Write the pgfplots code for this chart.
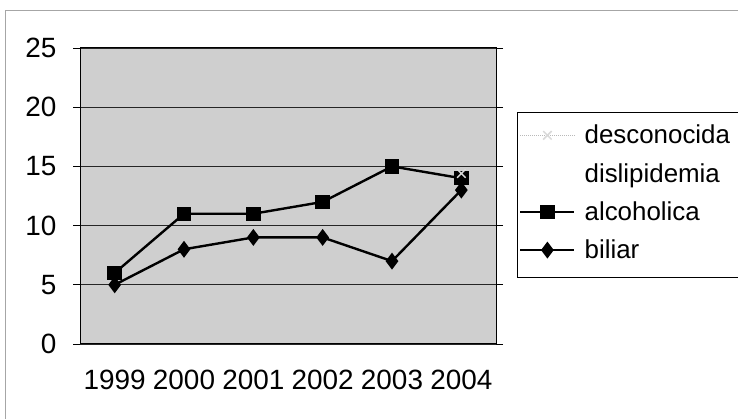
\documentclass[border=0pt]{standalone}
\usepackage{pgfplots}
\pgfplotsset{compat=1.18}
\usepackage{fontspec}
\setmainfont{Liberation Sans}
\newcommand{\chartfont}{\fontsize{28}{32}\selectfont}
\newcommand{\legfont}{\fontsize{26}{30}\selectfont}
\begin{document}
\begin{tikzpicture}
\useasboundingbox (0,0) rectangle (738bp,419bp);
\fill[white] (0,0) rectangle (738bp,419bp);
\draw[gray!70, line width=0.8bp] (5bp,0) -- (5bp,409bp) -- (738bp,409bp);
\begin{axis}[
  at={(80bp,75bp)}, anchor=south west,
  width=416bp, height=296bp, scale only axis,
  xmin=-0.5, xmax=5.5, ymin=0, ymax=25,
  xtick={0,1,2,3,4,5},
  xticklabels={1999,2000,2001,2002,2003,2004},
  extra x ticks={-0.5,0.5,1.5,2.5,3.5,4.5,5.5},
  extra x tick labels={},
  extra x tick style={major tick length=8bp, tick style={black, line width=0.8bp}},
  ytick={0,5,10,15,20,25},
  ymajorgrids, grid style={black!85, line width=0.8bp},
  tick align=outside,
  x tick style={draw=none},
  y tick style={black, line width=0.8bp},
  major tick length=7bp,
  axis line style={black, line width=1bp},
  axis background/.style={fill=black!19},
  /pgf/number format/assume math mode=true,
  ticklabel style={font=\chartfont},
  xticklabel style={yshift=-16bp},
  yticklabel style={xshift=-13bp},
  clip=false,
  reverse legend,
  legend style={at={(1.0505,0.777)}, anchor=north west, draw=none, fill=none,
    font=\legfont, row sep=14bp, inner xsep=2bp, inner ysep=9bp,
    /tikz/every even column/.append style={column sep=0bp},
    /tikz/every odd column/.append style={column sep=7bp}},
  legend cell align=left,
  legend image code/.code={\draw[mark repeat=2,mark phase=2,#1] plot coordinates {(0bp,0bp) (27bp,0bp) (54bp,0bp)};},
]
\addplot[black, line width=2.4bp, mark=diamond*, mark size=6.5bp, mark options={solid, fill=black}]
  coordinates {(0,5) (1,8) (2,9) (3,9) (4,7) (5,13)};
\addlegendentry{biliar}
\addplot[black, line width=2.4bp, mark=square*, mark size=6bp, mark options={solid, fill=black}]
  coordinates {(0,6) (1,11) (2,11) (3,12) (4,15) (5,14)};
\addlegendentry{alcoholica}
\addlegendimage{legend image code/.code={}}
\addlegendentry{dislipidemia}
\addplot[gray!55, densely dotted, line width=1bp, mark=x, mark size=6bp, mark options={solid, gray!30, line width=1.5bp}]
  coordinates {(5,14.4)};
\addlegendentry{desconocida}
\end{axis}
\draw[black, line width=1bp] (738bp,306bp) -- (517bp,306bp) -- (517bp,141bp) -- (738bp,141bp);
\end{tikzpicture}
\end{document}
